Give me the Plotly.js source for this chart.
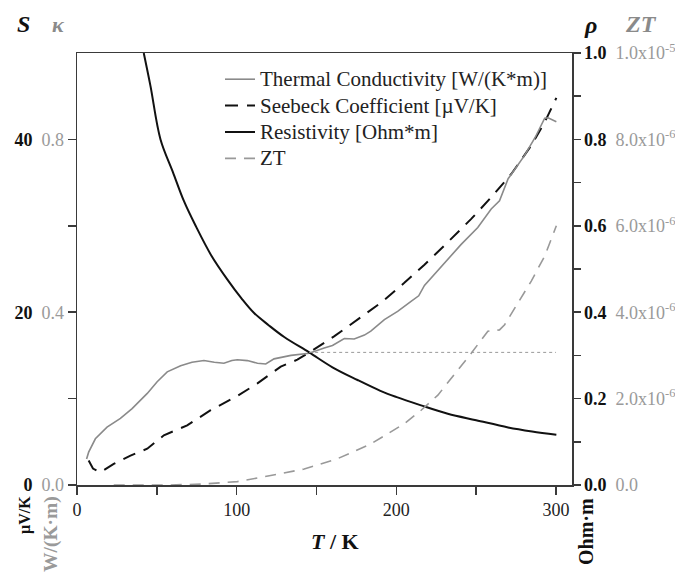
<!DOCTYPE html>
<html>
<head>
<meta charset="utf-8">
<script src="https://cdn.plot.ly/plotly-3.0.1.min.js"></script>
<style>
html,body{margin:0;padding:0;background:#fff;}
#chart{width:675px;height:577px;}
</style>
</head>
<body>
<div id="chart"></div>
<script>
// ---------- data ----------
const T_kappa = [6, 7.3, 11.5, 18.8, 27.2, 34.5, 44, 50.2, 56.5, 64.9, 72, 79.5, 86, 92, 97, 100.4, 106.7, 113, 118.2, 123.4, 134, 145.4, 154.8, 160, 167.4, 173.6, 180, 184, 192.5, 200.8, 209.2, 214, 217.6, 228, 234, 240.6, 251, 259.4, 264.6, 270, 275, 280.3, 287, 292.9, 295, 300.2];
const kappa   = [0.06, 0.076, 0.107, 0.134, 0.154, 0.177, 0.212, 0.239, 0.262, 0.276, 0.284, 0.288, 0.284, 0.282, 0.288, 0.29, 0.288, 0.282, 0.280, 0.292, 0.300, 0.305, 0.317, 0.323, 0.339, 0.338, 0.347, 0.356, 0.383, 0.402, 0.425, 0.438, 0.462, 0.505, 0.53, 0.557, 0.596, 0.639, 0.658, 0.709, 0.735, 0.763, 0.805, 0.849, 0.85, 0.841];

const T_seebeck = [7.3, 10, 14.6, 23, 33.5, 44, 54.4, 69, 83.7, 100.4, 113, 127.6, 138, 145.4, 161, 175.7, 190.4, 205, 217.6, 232.2, 246.9, 259.4, 272, 284.5, 292.9, 300.2];
const seebeck   = [2.83, 1.9, 1.47, 2.45, 3.4, 4.2, 5.75, 6.9, 8.66, 10.3, 11.76, 13.7, 14.5, 15.33, 17.2, 19.1, 21.1, 23.4, 25.5, 28.1, 30.8, 33.3, 36.0, 39.3, 42.0, 44.8];

const T_rho = [41.8, 46, 52.3, 60, 67, 74.3, 84, 94.1, 103, 110.9, 120, 130, 145.4, 160, 175.7, 190, 199.8, 215, 232.2, 250, 270, 285, 300.2];
const rho   = [1.0, 0.924, 0.8, 0.725, 0.657, 0.6, 0.532, 0.476, 0.432, 0.398, 0.37, 0.342, 0.307, 0.2725, 0.243, 0.218, 0.204, 0.185, 0.165, 0.15, 0.1333, 0.124, 0.1165];

const T_zt = [23, 40, 58.6, 79.5, 100.4, 121.3, 142.3, 163.2, 184, 205, 215.5, 226, 236.4, 246.9, 257.3, 264.6, 267.8, 276.2, 284.5, 292.9, 300.2];
const zt   = [0, 0, 0, 2.3e-8, 7.8e-8, 2.2e-7, 3.7e-7, 6.1e-7, 9.5e-7, 1.42e-6, 1.73e-6, 2.08e-6, 2.55e-6, 3.05e-6, 3.56e-6, 3.59e-6, 3.71e-6, 4.22e-6, 4.72e-6, 5.30e-6, 6.0e-6];

const T_guide = [145.4, 300];
const rho_guide = [0.307, 0.307];

const seriesNames = ["Thermal Conductivity [W/(K*m)]", "Seebeck Coefficient [\u00b5V/K]", "Resistivity [Ohm*m]", "ZT"];

// ---------- ticks ----------
const xTickVals = [0, 100, 200, 300];
const xTickText = ["0", "100", "200", "300"];
const xMinorVals = [50, 150, 250];
const sTickVals = [0, 20, 40];
const sTickLabels = ["0", "20", "40"];
const kTickLabels = ["0.0", "0.4", "0.8"];
const sMinorVals = [10, 30];
const rTickVals = [0, 0.2, 0.4, 0.6, 0.8, 1.0];
const rTickLabels = ["0.0", "0.2", "0.4", "0.6", "0.8", "1.0"];
const ztTickLabels = ["0.0", "2.0x10<sup>-6</sup>", "4.0x10<sup>-6</sup>", "6.0x10<sup>-6</sup>", "8.0x10<sup>-6</sup>", "1.0x10<sup>-5</sup>"];
const rMinorVals = [0.1, 0.3, 0.5, 0.7, 0.9];

const GRAYTXT = "#9a9a9a";
const NB = "\u00a0\u00a0";
const sTickText = sTickLabels.map((s, i) => "<b>" + s + "</b>" + NB + "<span style='color:" + GRAYTXT + "'>" + kTickLabels[i] + "</span>");
const rTickText = rTickLabels.map((s, i) => "<b>" + s + "</b>" + NB + "<span style='color:" + GRAYTXT + "'>" + ztTickLabels[i] + "</span>");

// ---------- layout helpers ----------
const W = 675, H = 577;
const M = {l: 77, r: 103, t: 53, b: 92};
const PW = W - M.l - M.r, PH = H - M.t - M.b;
const px = x => (x - M.l) / PW;
const py = y => (H - M.b - y) / PH;

const FONT = "Liberation Serif, Times New Roman, serif";
const AXC = "#3a3a3a";
const legName = s => "<span style='font-size:21px'>" + s + "</span>";
const minorTicks = vals => ({tickmode: "array", tickvals: vals, ticks: "outside", ticklen: 8, tickwidth: 1.5, tickcolor: AXC, showgrid: false});

const traces = [
  {x: T_kappa, y: kappa, yaxis: "y2", name: legName(seriesNames[0]), mode: "lines",
   line: {color: "#8a8a8a", width: 1.6}},
  {x: T_seebeck, y: seebeck, yaxis: "y", name: legName(seriesNames[1]), mode: "lines",
   line: {color: "#111", width: 2, dash: "13px,9px"}},
  {x: T_rho, y: rho, yaxis: "y3", name: legName(seriesNames[2]), mode: "lines",
   line: {color: "#111", width: 2, shape: "spline"}},
  {x: T_zt, y: zt, yaxis: "y4", name: legName(seriesNames[3]), mode: "lines",
   line: {color: "#999", width: 1.6, dash: "11px,8px"}},
  {x: T_guide, y: rho_guide, yaxis: "y3", name: "guide", mode: "lines", showlegend: false,
   line: {color: "#999", width: 1, dash: "dot"}}
];

const layout = {
  width: W, height: H,
  margin: M,
  paper_bgcolor: "#fff", plot_bgcolor: "#fff",
  font: {family: FONT, size: 18, color: "#111"},
  showlegend: true,
  legend: {
    x: px(220), y: py(61), xanchor: "left", yanchor: "top",
    bgcolor: "rgba(0,0,0,0)", borderwidth: 0,
    font: {family: FONT, size: 18, color: "#222"},
    tracegroupgap: 0, itemwidth: 30
  },
  xaxis: {
    range: [0, 310], tickmode: "array", tickvals: xTickVals, ticktext: xTickText,
    ticks: "outside", ticklen: 8, tickwidth: 1.5, tickcolor: AXC,
    minor: minorTicks(xMinorVals),
    showline: true, linecolor: AXC, linewidth: 1.5, mirror: true,
    showgrid: false, zeroline: false,
    tickfont: {family: FONT, size: 18, color: "#222"}
  },
  yaxis: {
    range: [0, 50], tickmode: "array", tickvals: sTickVals, ticktext: sTickText,
    ticks: "outside", ticklen: 8, tickwidth: 1.5, tickcolor: AXC,
    minor: minorTicks(sMinorVals),
    showline: true, linecolor: AXC, linewidth: 1.5,
    showgrid: false, zeroline: false,
    tickfont: {family: FONT, size: 18, color: "#111"}
  },
  yaxis2: {range: [0, 1], overlaying: "y", visible: false},
  yaxis3: {
    range: [0, 1], overlaying: "y", side: "right", anchor: "x",
    tickmode: "array", tickvals: rTickVals, ticktext: rTickText,
    ticks: "outside", ticklen: 7, tickwidth: 1.5, tickcolor: AXC,
    minor: Object.assign(minorTicks(rMinorVals), {ticklen: 7}),
    showline: true, linecolor: AXC, linewidth: 1.5,
    showgrid: false, zeroline: false,
    tickfont: {family: FONT, size: 18, color: "#111"}
  },
  yaxis4: {range: [0, 1e-5], overlaying: "y", visible: false},
  annotations: [
    {text: "<b><i>S</i></b>", x: px(23), y: py(24), font: {size: 24, color: "#111"}},
    {text: "<b><i>\u03ba</i></b>", x: px(58), y: py(25), font: {size: 22, color: "#8a8a8a"}},
    {text: "<b><i>\u03c1</i></b>", x: px(590), y: py(25), font: {size: 24, color: "#111"}},
    {text: "<b><i>ZT</i></b>", x: px(641), y: py(24), font: {size: 24, color: "#8a8a8a"}},
    {text: "<b><i>T</i> / K</b>", x: px(335), y: py(541), font: {size: 22, color: "#111"}},
    {text: "<b>\u00b5V/K</b>", x: px(25), y: py(515), textangle: -90, font: {size: 16, color: "#111"}},
    {text: "<b>W/(K\u00b7m)</b>", x: px(51), y: py(534), textangle: -90, font: {size: 19.5, color: "#9a9a9a"}},
    {text: "<b>Ohm\u00b7m</b>", x: px(586), y: py(532), textangle: -90, font: {size: 20, color: "#111"}}
  ].map(a => Object.assign({xref: "paper", yref: "paper", showarrow: false, xanchor: "center", yanchor: "middle"}, a, {font: Object.assign({family: FONT}, a.font)}))
};

Plotly.newPlot("chart", traces, layout, {displayModeBar: false, staticPlot: true});
</script>
</body>
</html>
